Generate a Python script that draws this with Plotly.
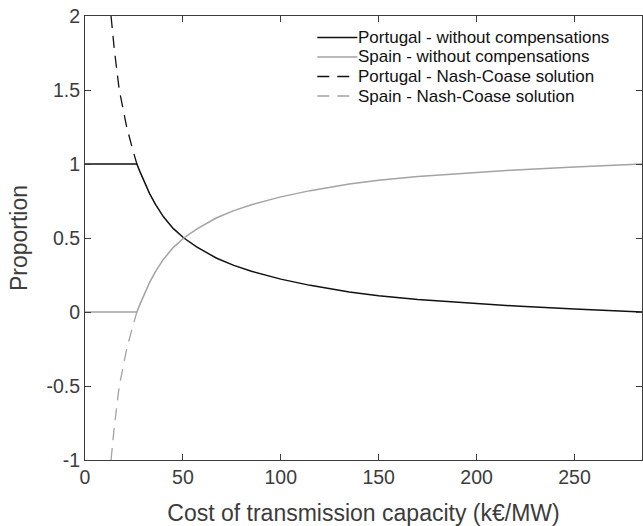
import plotly.graph_objects as go

# ---- data ----
cost = [0, 26.5, 28, 30, 33, 36, 40, 45, 50.5, 57, 67, 76, 85, 100, 115,
        135, 150, 170, 195, 220, 250, 284.5]
portugal_wo = [1.0, 1.0, 0.95, 0.885, 0.80, 0.727, 0.645, 0.565, 0.50, 0.44,
               0.365, 0.315, 0.275, 0.222, 0.18, 0.135, 0.11, 0.085, 0.06,
               0.04, 0.02, 0.0]
spain_wo = [0.0, 0.0, 0.05, 0.115, 0.20, 0.273, 0.355, 0.435, 0.50, 0.56,
            0.635, 0.685, 0.725, 0.778, 0.82, 0.865, 0.89, 0.915, 0.94,
            0.96, 0.98, 1.0]

cost_nc = [13.3, 15.0, 17.5, 19.3, 21.3, 24.0, 26.5]
portugal_nc = [2.0, 1.77, 1.50, 1.37, 1.25, 1.115, 1.0]
spain_nc = [-1.0, -0.77, -0.50, -0.37, -0.25, -0.115, 0.0]

series_names = ["Portugal - without compensations",
                "Spain - without compensations",
                "Portugal - Nash-Coase solution",
                "Spain - Nash-Coase solution"]

x_ticks = [0, 50, 100, 150, 200, 250]
x_ticklabels = ["0", "50", "100", "150", "200", "250"]
y_ticks = [-1, -0.5, 0, 0.5, 1, 1.5, 2]
y_ticklabels = ["-1", "-0.5", "0", "0.5", "1", "1.5", "2"]

# ---- styles ----
BLACK = "#111111"
GRAY = "#a3a3a3"
AXIS = "#3c3c3c"
FONT = "Liberation Sans, Arial, Helvetica, sans-serif"
DASH = "12px,8px"

styles = [dict(color=BLACK, width=1.5, dash="solid"),
          dict(color=GRAY, width=1.5, dash="solid"),
          dict(color=BLACK, width=1.3, dash=DASH),
          dict(color=GRAY, width=1.3, dash=DASH)]

fig = go.Figure()
data = [(cost, portugal_wo), (cost, spain_wo), (cost_nc, portugal_nc), (cost_nc, spain_nc)]
for (xs, ys), name, st in zip(data, series_names, styles):
    fig.add_trace(go.Scatter(x=xs, y=ys, mode="lines", name=name, line=st,
                             showlegend=False, hoverinfo="skip"))

# ---- manual legend (MATLAB-style compact) ----
leg_x0, leg_x1, leg_tx = 0.417, 0.489, 0.489
leg_rows = [0.9516, 0.9077, 0.8637, 0.8198]
for name, st, yy in zip(series_names, styles, leg_rows):
    fig.add_shape(type="line", xref="paper", yref="paper", x0=leg_x0, x1=leg_x1,
                  y0=yy, y1=yy, line=dict(color=st["color"], width=st["width"],
                                          dash=st["dash"]))
    fig.add_annotation(xref="paper", yref="paper", x=leg_tx, y=yy, text=name,
                       showarrow=False, xanchor="left", yanchor="middle",
                       borderpad=0,
                       font=dict(family=FONT, size=17, color="#111111"))

axis_common = dict(showline=True, linecolor=AXIS, linewidth=1, mirror="ticks",
                   ticks="inside", ticklen=6, tickcolor=AXIS, tickwidth=1,
                   showgrid=False, zeroline=False,
                   tickfont=dict(family=FONT, size=19.5, color=AXIS))

fig.update_xaxes(range=[0, 284.5], tickvals=x_ticks, ticktext=x_ticklabels,
                 title=dict(text="Cost of transmission capacity (k€/MW)",
                            font=dict(family=FONT, size=23, color=AXIS), standoff=18),
                 **axis_common)
fig.update_yaxes(range=[-1, 2], tickvals=y_ticks, ticktext=y_ticklabels,
                 title=dict(text="Proportion",
                            font=dict(family=FONT, size=23, color=AXIS), standoff=12),
                 **axis_common)

fig.update_layout(width=643, height=526,
                  margin=dict(l=85, r=1, t=16, b=66, autoexpand=False),
                  plot_bgcolor="white", paper_bgcolor="white",
                  showlegend=False)

fig.write_html("out.html")
